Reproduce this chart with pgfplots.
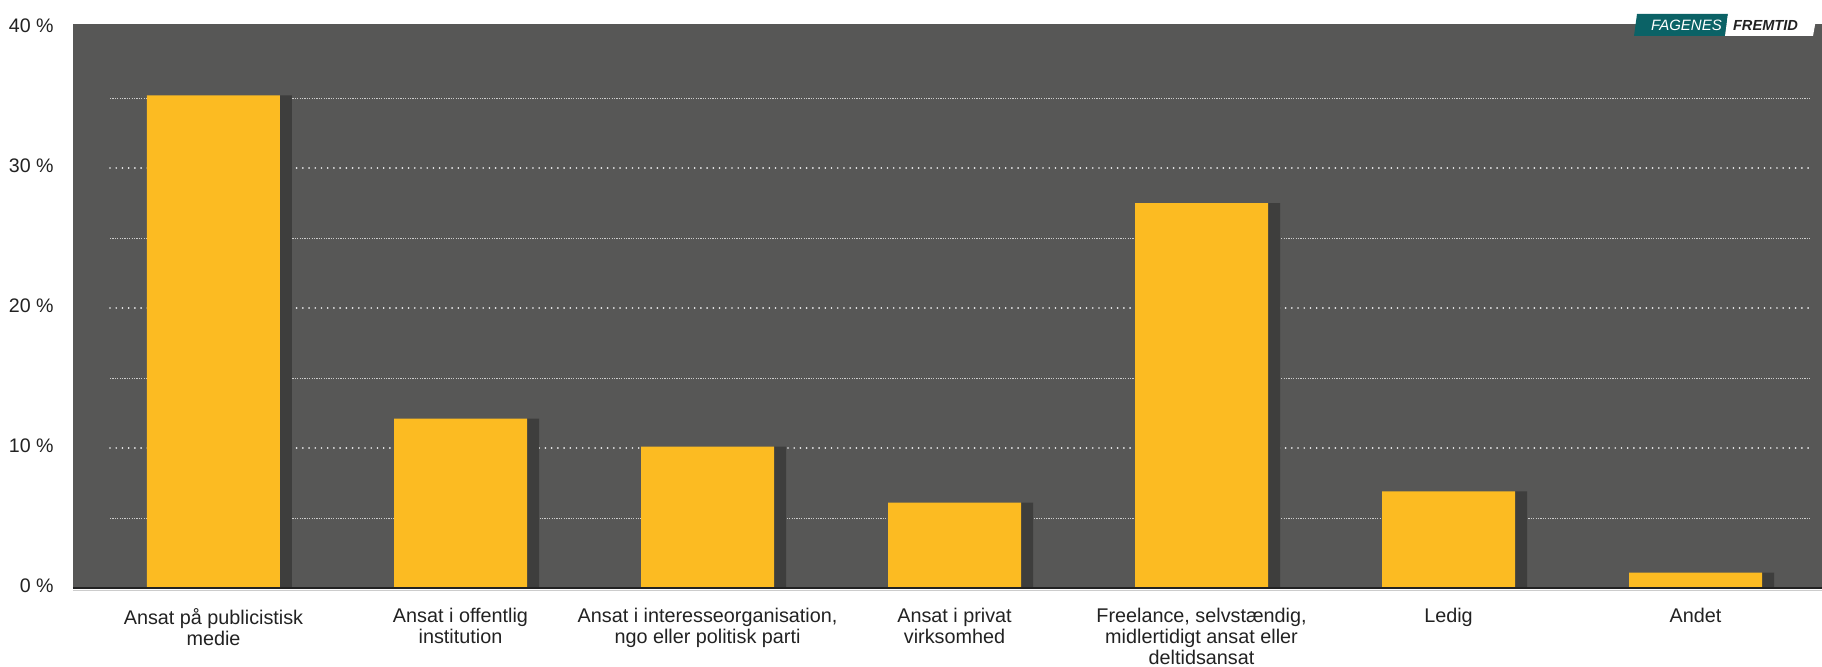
\documentclass[border=0pt]{standalone}
\usepackage{pgfplots}
\pgfplotsset{compat=1.18}
\usepackage{fontspec}
\setmainfont{Liberation Sans}
\definecolor{bggray}{HTML}{575756}
\definecolor{baryellow}{HTML}{FCBB22}
\definecolor{shadowgray}{HTML}{3E3E3D}
\definecolor{txt}{HTML}{222222}
\definecolor{teal}{HTML}{0B6266}
\begin{document}
\begin{tikzpicture}
\useasboundingbox (0,0) rectangle (911pt,333.5pt);
\begin{axis}[
  at={(36.5pt,39.5pt)}, anchor=south west,
  width=874.5pt, height=282pt, scale only axis,
  xmin=-0.5688, xmax=6.512, ymin=0, ymax=40.3,
  axis background/.style={fill=bggray},
  axis line style={draw=none},
  major tick length=0pt,
  xtick={0,1,2,3,4,5,6},
  xticklabels={{Ansat på publicistisk\\medie},{Ansat i offentlig\\institution},{Ansat i interesseorganisation,\\ngo eller politisk parti},{Ansat i privat\\virksomhed},{Freelance, selvstændig,\\midlertidigt ansat eller\\deltidsansat},{Ledig},{Andet}},
  xticklabel style={anchor=north, inner sep=0pt, yshift=-10pt, align=center, text=txt, font={\fontsize{9.9}{10.5}\selectfont}},
  ytick={0,10,20,30,40},
  yticklabels={0 \%,10 \%,20 \%,30 \%,40 \%},
  yticklabel style={anchor=east, inner sep=0pt, xshift=-9.5pt, yshift=1pt, text=txt, font={\fontsize{9.8}{10.5}\selectfont}},
  clip=false,
]
% gridlines
\foreach \g in {5,15,25,35} {
  \edef\tmp{\noexpand\draw[white!70!bggray, line width=0.5pt, dash pattern=on 0.6pt off 0.6pt] (axis cs:-0.419,\g) -- (axis cs:6.464,\g);}\tmp
}
\foreach \g in {10,20,30} {
  \edef\tmp{\noexpand\draw[white!90!bggray, line width=0.9pt, line cap=round, dash pattern=on 0.01pt off 3.1pt] (axis cs:-0.419,\g) -- (axis cs:6.464,\g);}\tmp
}
% shadows
\addplot[ybar, bar width=6pt, bar shift=36.25pt, fill=shadowgray, draw=none] coordinates {
(0,35.2) (1,12.1) (2,10.1) (3,6.1) (4,27.5) (5,6.9) (6,1.1)};
% bars
\addplot[ybar, bar width=66.5pt, bar shift=0pt, fill=baryellow, draw=none] coordinates {
(0,35.2) (1,12.1) (2,10.1) (3,6.1) (4,27.5) (5,6.9) (6,1.1)};
\draw[txt, line width=1.2pt] (rel axis cs:0,0) -- (rel axis cs:1,0);
\draw[black!20, line width=0.5pt] ([yshift=-1.1pt]rel axis cs:0,0) -- ([yshift=-1.1pt]rel axis cs:1,0);
\end{axis}
% logo
\fill[teal] (817pt,315.5pt) -- (818.5pt,326.5pt) -- (864pt,326.5pt) -- (862.5pt,315.5pt) -- cycle;
\fill[white] (862.5pt,315.5pt) -- (864pt,326.5pt) -- (908.5pt,326.5pt) -- (906.5pt,315.5pt) -- cycle;
\node[anchor=base, inner sep=0pt, text=white, font={\fontsize{7.5}{8}\selectfont\itshape}] at (843.25pt,318.4pt) {FAGENES};
\node[anchor=base, inner sep=0pt, text=txt, font={\fontsize{7.3}{8}\selectfont\bfseries\itshape}] at (882.75pt,318.4pt) {FREMTID};
\end{tikzpicture}
\end{document}
